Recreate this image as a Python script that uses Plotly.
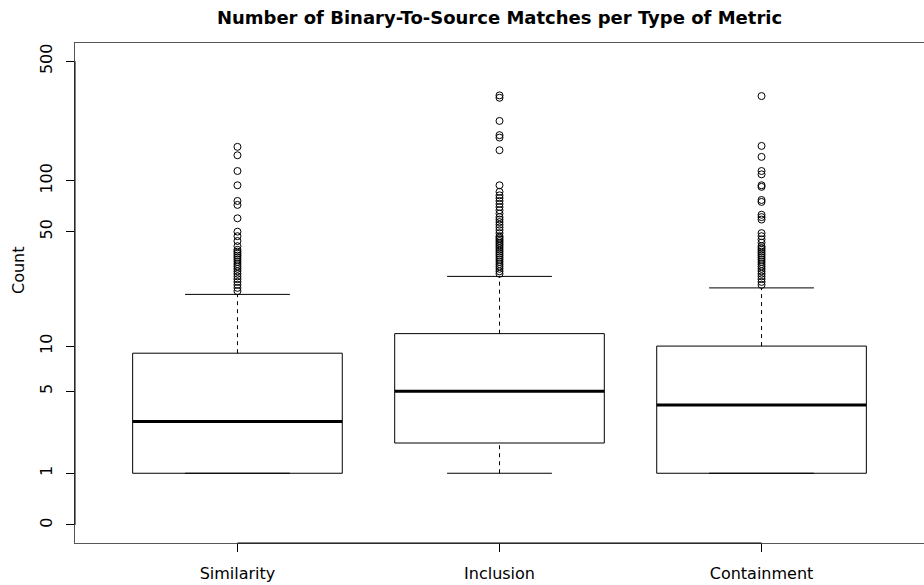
import numpy as np
import plotly.graph_objects as go

# ---- data ----
categories = ["Similarity", "Inclusion", "Containment"]
q1 = [1, 2, 1]
medians = [3, 5, 4]
q3 = [9, 12, 10]
whisker_low = [1, 1, 1]
whisker_high = [21, 27, 23]

outliers_similarity = [158, 141, 114, 94, 76, 72, 60, 50, 47, 44, 41, 39, 38, 37,
                       36, 35, 34, 33, 32, 31, 30, 29, 28, 27, 26, 25, 24, 23, 22]
outliers_inclusion = [316, 306, 224, 185, 179, 151, 94, 86, 82, 79, 76, 73, 70, 67,
                      64, 61, 59, 57, 55, 53, 51, 49, 47, 46, 45, 44, 43, 42, 41,
                      40, 39, 38, 37, 36, 35, 34, 33, 32, 31, 30, 29, 28]
outliers_containment = [313, 160, 138, 114, 109, 94, 92, 77, 75, 63, 61, 59, 49, 47,
                        45, 43, 41, 40, 39, 38, 37, 36, 35, 34, 33, 32, 31, 30, 29,
                        28, 27, 26, 25, 24]
outliers = [outliers_similarity, outliers_inclusion, outliers_containment]

y_tick_values = [0, 1, 5, 10, 50, 100, 500]


def tr(v):
    return np.log10(np.asarray(v, dtype=float) + 1)


FONT = "DejaVu Sans"
BOX_HALF = 0.4
CAP_HALF = 0.2
positions = [1, 2, 3]

fig = go.Figure()
line_black = dict(color="black", width=1)

for i, p in enumerate(positions):
    lo, a, m, b, hi = tr([whisker_low[i], q1[i], medians[i], q3[i], whisker_high[i]])
    # whiskers (dashed)
    fig.add_trace(go.Scatter(x=[p, p], y=[b, hi], mode="lines",
                             line=dict(color="black", width=1, dash="4px,4px"),
                             hoverinfo="skip", showlegend=False))
    fig.add_trace(go.Scatter(x=[p, p], y=[lo, a], mode="lines",
                             line=dict(color="black", width=1, dash="4px,4px"),
                             hoverinfo="skip", showlegend=False))
    # caps
    for yy in (lo, hi):
        fig.add_trace(go.Scatter(x=[p - CAP_HALF, p + CAP_HALF], y=[yy, yy], mode="lines",
                                 line=line_black, hoverinfo="skip", showlegend=False))
    # box
    fig.add_trace(go.Scatter(x=[p - BOX_HALF, p + BOX_HALF, p + BOX_HALF, p - BOX_HALF, p - BOX_HALF],
                             y=[a, a, b, b, a], mode="lines", line=line_black,
                             hoverinfo="skip", showlegend=False))
    # median
    fig.add_trace(go.Scatter(x=[p - BOX_HALF, p + BOX_HALF], y=[m, m], mode="lines",
                             line=dict(color="black", width=3),
                             hoverinfo="skip", showlegend=False))
    # outliers
    fig.add_trace(go.Scatter(x=[p] * len(outliers[i]), y=tr(outliers[i]), mode="markers",
                             marker=dict(symbol="circle-open", size=7, color="black",
                                         line=dict(width=1, color="black")),
                             name=categories[i], showlegend=False))

# axis segments (R style: axis line from first to last tick)
fig.add_shape(type="line", xref="x", yref="paper", x0=positions[0], x1=positions[-1],
              y0=0, y1=0, line=dict(color="black", width=1))
fig.add_shape(type="line", xref="paper", yref="y", x0=0, x1=0,
              y0=float(tr(y_tick_values[0])), y1=float(tr(y_tick_values[-1])),
              line=dict(color="black", width=1))

fig.update_layout(
    width=924, height=585,
    margin=dict(l=75, r=0, t=43, b=42),
    paper_bgcolor="white", plot_bgcolor="white",
    font=dict(family=FONT, size=16, color="black"),
    title=dict(text="<b>Number of Binary-To-Source Matches per Type of Metric</b>",
               font=dict(family=FONT, size=18, color="black"),
               x=0.5, xref="paper", xanchor="center",
               y=1 - 18 / 585, yref="container", yanchor="middle"),
    xaxis=dict(range=[0.38, 3.62], tickvals=positions, ticktext=categories,
               ticks="outside", ticklen=8, tickcolor="black", tickwidth=1,
               showline=True, mirror=True, linecolor="#555", linewidth=1,
               showgrid=False, zeroline=False, ticklabelstandoff=8,
               tickfont=dict(family=FONT, size=16, color="black")),
    yaxis=dict(range=[-0.105, 2.806], tickvals=tr(y_tick_values).tolist(),
               ticktext=[str(v) for v in y_tick_values], tickangle=-90,
               ticks="outside", ticklen=8, tickcolor="black", tickwidth=1,
               showline=True, mirror=True, linecolor="#555", linewidth=1,
               showgrid=False, zeroline=False, ticklabelstandoff=8,
               tickfont=dict(family=FONT, size=16, color="black")),
    annotations=[dict(text="Count", xref="paper", yref="paper", x=0, y=0.546,
                      xshift=-57, xanchor="center", yanchor="middle", textangle=-90,
                      showarrow=False, font=dict(family=FONT, size=16, color="black"))],
)

fig.write_html("out.html", post_script="document.body.style.margin='0';",
               config={"displayModeBar": False})
